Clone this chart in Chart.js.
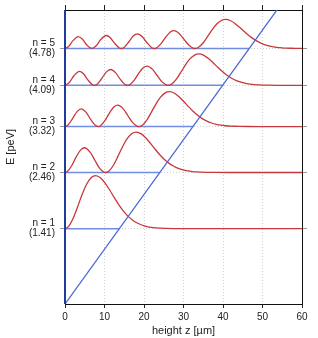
<!DOCTYPE html>
<html lang="en">
<head>
<meta charset="UTF-8">
<title>Quantum bouncer levels</title>
<script src="https://cdn.jsdelivr.net/npm/chart.js"></script>
<style>
  body { margin: 0; background: #fff; }
  canvas { display: block; }
</style>
</head>
<body>
<canvas id="chart" width="318" height="338"></canvas>
<script>
// energy levels (peV) and where each one meets the potential (um)
const levelE = [1.41, 2.46, 3.32, 4.09, 4.78];
const levelNames = ['n = 1', 'n = 2', 'n = 3', 'n = 4', 'n = 5'];
const turnZ = [13.8, 24.0, 32.4, 39.9, 46.6];

// gravitational potential mgz
const potZ = [0, 60];
const potE = [0, 6.15];

const xTicks = [0, 10, 20, 30, 40, 50, 60];

// |psi|^2 drawn on top of each level: [z (um), height above level (peV)]
const psi1 = [[0,0],[0.81,0.032],[1.98,0.179],[3.16,0.401],[4.33,0.639],[5.51,0.836],[6.68,0.957],[7.74,0.992],
  [9.03,0.948],[10.20,0.847],[11.38,0.713],[12.55,0.571],[13.72,0.436],[14.90,0.319],[16.07,0.224],[17.25,0.152],
  [18.42,0.100],[19.59,0.063],[20.77,0.039],[21.94,0.023],[23.12,0.014],[24.29,0.008],[25.46,0.004],[27.81,0.001],
  [31.33,0],[60,0]];
const psi2 = [[0,0],[0.52,0.013],[1.69,0.126],[2.86,0.296],[4.04,0.428],[4.93,0.463],[6.39,0.378],[7.56,0.229],
  [8.73,0.083],[9.91,0.005],[10.27,0],[11.08,0.024],[12.26,0.136],[13.43,0.306],[14.61,0.487],[15.78,0.637],
  [16.95,0.730],[18.02,0.756],[19.30,0.723],[20.48,0.646],[21.65,0.544],[22.82,0.435],[24.00,0.332],[25.17,0.243],
  [26.35,0.171],[27.52,0.116],[28.69,0.076],[29.87,0.048],[31.04,0.030],[32.22,0.018],[33.39,0.010],[34.57,0.006],
  [35.74,0.003],[38.09,0.001],[41.61,0],[60,0]];
const psi3 = [[0,0],[0.71,0.024],[1.88,0.145],[3.06,0.279],[4.12,0.329],[5.40,0.259],[6.58,0.124],[7.75,0.018],
  [8.41,0],[8.93,0.011],[10.10,0.109],[11.27,0.255],[12.45,0.369],[13.34,0.399],[14.80,0.326],[15.97,0.197],
  [17.14,0.072],[18.32,0.004],[18.68,0],[19.49,0.021],[20.67,0.117],[21.84,0.264],[23.01,0.420],[24.19,0.549],
  [25.36,0.629],[26.43,0.652],[27.71,0.623],[28.88,0.556],[30.06,0.469],[31.23,0.375],[32.41,0.286],[33.58,0.210],
  [34.75,0.147],[35.93,0.100],[37.10,0.066],[38.28,0.042],[39.45,0.026],[40.62,0.015],[41.80,0.009],[42.97,0.005],
  [44.15,0.003],[46.49,0.001],[50.02,0],[60,0]];
const psi4 = [[0,0],[1.10,0.055],[2.27,0.181],[3.66,0.263],[4.62,0.222],[5.79,0.103],[6.97,0.010],[7.43,0],
  [8.14,0.022],[9.32,0.131],[10.49,0.252],[11.55,0.297],[12.84,0.233],[14.01,0.112],[15.19,0.016],[15.84,0],
  [16.36,0.010],[17.53,0.098],[18.71,0.230],[19.88,0.333],[20.77,0.360],[22.23,0.294],[23.40,0.178],[24.58,0.065],
  [25.75,0.004],[26.11,0],[26.93,0.019],[28.10,0.106],[29.27,0.238],[30.45,0.379],[31.62,0.495],[32.80,0.567],
  [33.86,0.588],[35.14,0.562],[36.32,0.502],[37.49,0.423],[38.67,0.338],[39.84,0.258],[41.01,0.189],[42.19,0.133],
  [43.36,0.090],[44.54,0.059],[45.71,0.038],[46.88,0.023],[48.06,0.014],[49.23,0.008],[50.41,0.005],[51.58,0.003],
  [53.93,0.001],[57.45,0],[60,0]];
const psi5 = [[0,0],[0.84,0.033],[2.02,0.147],[3.36,0.222],[4.37,0.177],[5.54,0.064],[6.79,0],[7.89,0.051],
  [9.06,0.167],[10.45,0.243],[11.41,0.205],[12.58,0.095],[13.76,0.009],[14.22,0],[14.93,0.020],[16.11,0.121],
  [17.28,0.233],[18.34,0.274],[19.63,0.216],[20.80,0.103],[21.98,0.015],[22.63,0],[23.15,0.009],[24.32,0.091],
  [25.50,0.212],[26.67,0.308],[27.56,0.333],[29.02,0.272],[30.19,0.165],[31.37,0.060],[32.54,0.004],[32.90,0],
  [33.72,0.018],[34.89,0.098],[36.07,0.220],[37.24,0.350],[38.41,0.458],[39.59,0.524],[40.65,0.543],[41.93,0.519],
  [43.11,0.464],[44.28,0.391],[45.46,0.313],[46.63,0.239],[47.80,0.175],[48.98,0.123],[50.15,0.083],[51.33,0.055],
  [52.50,0.035],[53.67,0.021],[54.85,0.013],[56.02,0.007],[57.20,0.004],[58.37,0.002],[60,0.001]];
const waves = [psi1, psi2, psi3, psi4, psi5];

const FONT = '"Liberation Sans", Arial, Helvetica, sans-serif';
const RED = '#c8373b';
const LEVEL_BLUE = '#6f8ee2';
const POT_BLUE = '#4a69d4';
const WALL = '#1f3c9c';

const datasets = [];

// the wall at z = 0
datasets.push({
  data: [{x: 0, y: 0}, {x: 0, y: 5.5}],
  borderColor: WALL, borderWidth: 2, pointRadius: 0, clip: false, order: 0
});
// potential
datasets.push({
  data: potZ.map((z, i) => ({x: z, y: potE[i]})),
  borderColor: POT_BLUE, borderWidth: 1.3, pointRadius: 0, order: 1
});
// wavefunctions
waves.forEach((w, i) => {
  datasets.push({
    data: w.map(p => ({x: p[0], y: levelE[i] + p[1]})),
    borderColor: RED, borderWidth: 1.3, pointRadius: 0,
    cubicInterpolationMode: 'monotone', order: 2
  });
});
// level lines up to the classical turning point
levelE.forEach((e, i) => {
  datasets.push({
    data: [{x: 0, y: e}, {x: turnZ[i], y: e}],
    borderColor: LEVEL_BLUE, borderWidth: 1.5, pointRadius: 0, order: 3
  });
});

const levelTicks = s => { s.ticks = levelE.map(v => ({value: v})); };
// labels sit well inside the axis, so no extra room is needed above/below
const noPad = w => s => { s.width = w; s.paddingTop = 0; s.paddingBottom = 0; };

const yTitle = {
  id: 'yTitle',
  afterDraw(chart) {
    const ctx = chart.ctx;
    ctx.save();
    ctx.translate(11, 147);
    ctx.rotate(-Math.PI / 2);
    ctx.font = '11px ' + FONT;
    ctx.fillStyle = '#222';
    ctx.textAlign = 'center';
    ctx.textBaseline = 'middle';
    ctx.fillText('E [peV]', 0, 0);
    ctx.restore();
  }
};

new Chart(document.getElementById('chart'), {
  type: 'line',
  data: {datasets: datasets},
  options: {
    responsive: false,
    animation: false,
    layout: {padding: 0},
    plugins: {legend: {display: false}, tooltip: {enabled: false}},
    scales: {
      x: {
        type: 'linear', position: 'bottom', min: 0, max: 60,
        afterBuildTicks: s => { s.ticks = xTicks.map(v => ({value: v})); },
        ticks: {color: '#222', font: {family: FONT, size: 10}, padding: 3, maxRotation: 0, autoSkip: false},
        grid: {color: '#cfcfcf', lineWidth: 1, tickColor: '#222', tickLength: 4, borderDash: [1, 2]},
        border: {color: '#111', width: 1, dash: [1, 2]},
        title: {display: true, text: 'height z [µm]', color: '#222', font: {family: FONT, size: 11}, padding: {top: 0, bottom: 0}},
        afterFit: s => { s.height = 34; s.paddingLeft = 0; s.paddingRight = 0; }
      },
      x2: {
        type: 'linear', position: 'top', min: 0, max: 60,
        afterBuildTicks: s => { s.ticks = xTicks.map(v => ({value: v})); },
        ticks: {display: false},
        grid: {drawOnChartArea: false, tickColor: '#222', tickLength: 5},
        border: {color: '#111', width: 1},
        afterFit: s => { s.height = 10; s.paddingLeft = 0; s.paddingRight = 0; }
      },
      y: {
        type: 'linear', position: 'left', min: 0, max: 5.5,
        afterBuildTicks: levelTicks,
        ticks: {
          color: '#222', font: {family: FONT, size: 10, lineHeight: 1.0}, padding: 5, autoSkip: false,
          callback: (v, i) => [levelNames[i], '(' + levelE[i].toFixed(2) + ')']
        },
        grid: {color: '#cfcfcf', lineWidth: 1, tickColor: '#999', tickLength: 5, borderDash: [1, 2]},
        border: {display: false, dash: [1, 2]},
        afterFit: noPad(65)
      },
      y2: {
        type: 'linear', position: 'right', min: 0, max: 5.5,
        afterBuildTicks: levelTicks,
        ticks: {display: false},
        grid: {drawOnChartArea: false, tickColor: '#999', tickLength: 5},
        border: {color: '#111', width: 1},
        afterFit: noPad(16)
      }
    }
  },
  plugins: [yTitle]
});
</script>
</body>
</html>
